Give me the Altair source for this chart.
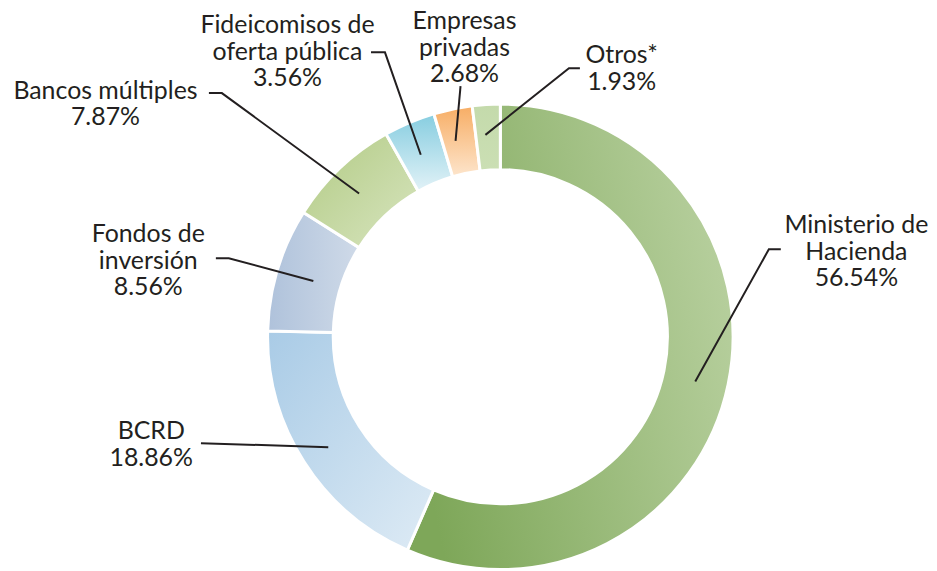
import altair as alt
import pandas as pd

# ---- data ----
names = ["Ministerio de Hacienda", "BCRD", "Fondos de inversión", "Bancos múltiples",
         "Fideicomisos de oferta pública", "Empresas privadas", "Otros*"]
values = [56.54, 18.86, 8.56, 7.87, 3.56, 2.68, 1.93]
label_text = ["Ministerio de\nHacienda", "BCRD", "Fondos de\ninversión", "Bancos múltiples",
              "Fideicomisos de\noferta pública", "Empresas\nprivadas", "Otros*"]

# ---- annotation layout (page pixel coordinates, first text line) ----
label_x = [861, 152, 149, 106, 289, 467, 625]
label_y = [223, 430, 232, 88, 22, 18, 52]
leader_paths = [
    [(785, 247), (773, 247), (699, 380)],
    [(202, 442), (330, 446)],
    [(217, 256), (230, 256), (315, 279)],
    [(210, 90), (223, 90), (361, 191)],
    [(373, 49), (387, 49), (423, 152)],
    [(463, 83), (458, 138)],
    [(583, 65), (572, 65), (488, 132)],
]

# ---- styling ----
def grad(c0, c1, x1=0, y1=0, x2=1, y2=0):
    return {"gradient": "linear", "x1": x1, "y1": y1, "x2": x2, "y2": y2,
            "stops": [{"offset": 0, "color": c0}, {"offset": 1, "color": c1}]}

fills = [
    grad("#7ea759", "#b8d09f", 0, 0.6, 1, 0.3),
    grad("#a9cbe6", "#deebf5", 0, 0, 1, 1),
    grad("#afc2db", "#cfdae8", 0, 0, 1, 0),
    grad("#b1ca83", "#d8e5c0", 0, 0, 1, 1),
    grad("#86cde0", "#e2f2f7", 0, 0, 0, 1),
    grad("#f7ad64", "#fde5cc", 0, 0, 0, 1),
    grad("#c4daab", "#cbdfb4", 0, 0, 0, 1),
]

W, H = 921, 555
CX, CY = 503, 335
TEXT_COLOR = "#231f20"

df = pd.DataFrame({"name": names, "value": values, "idx": list(range(len(names)))})

fill_enc = alt.when(alt.datum.name == names[0]).then(alt.value(fills[0]))
for n, f in zip(names[1:-1], fills[1:-1]):
    fill_enc = fill_enc.when(alt.datum.name == n).then(alt.value(f))
fill_enc = fill_enc.otherwise(alt.value(fills[-1]))

donut = alt.Chart(df).mark_arc(
    outerRadius=234, innerRadius=168, stroke="white", strokeWidth=3
).encode(
    theta=alt.Theta("value:Q", stack=True),
    order=alt.Order("idx:Q"),
    fill=fill_enc,
    x=alt.value(CX - 8),
    y=alt.value(CY - 8),
)

xs = alt.Scale(domain=[8, 8 + W])
ys = alt.Scale(domain=[8, 8 + H], reverse=True)

rows = []
for i, path in enumerate(leader_paths):
    for j, (px, py) in enumerate(path):
        rows.append({"g": i, "o": j, "px": px, "py": py})
ldf = pd.DataFrame(rows)

leaders = alt.Chart(ldf).mark_line(color=TEXT_COLOR, strokeWidth=2).encode(
    x=alt.X("px:Q", scale=xs, axis=None),
    y=alt.Y("py:Q", scale=ys, axis=None),
    detail="g:N",
    order="o:Q",
)

tdf = pd.DataFrame({
    "t": [f"{l}\n{v:.2f}%" for l, v in zip(label_text, values)],
    "lx": label_x, "ly": label_y,
})
labels = alt.Chart(tdf).mark_text(
    font="Lato", fontSize=25, color=TEXT_COLOR, lineBreak="\n", lineHeight=26.5,
    align="center", baseline="middle"
).encode(
    x=alt.X("lx:Q", scale=xs, axis=None),
    y=alt.Y("ly:Q", scale=ys, axis=None),
    text="t:N",
)

chart = alt.layer(donut, leaders, labels).properties(
    width=W, height=H, padding=0, background="white"
).configure_view(stroke=None)

chart.save("out.html", embed_options={"renderer": "svg", "actions": False})
